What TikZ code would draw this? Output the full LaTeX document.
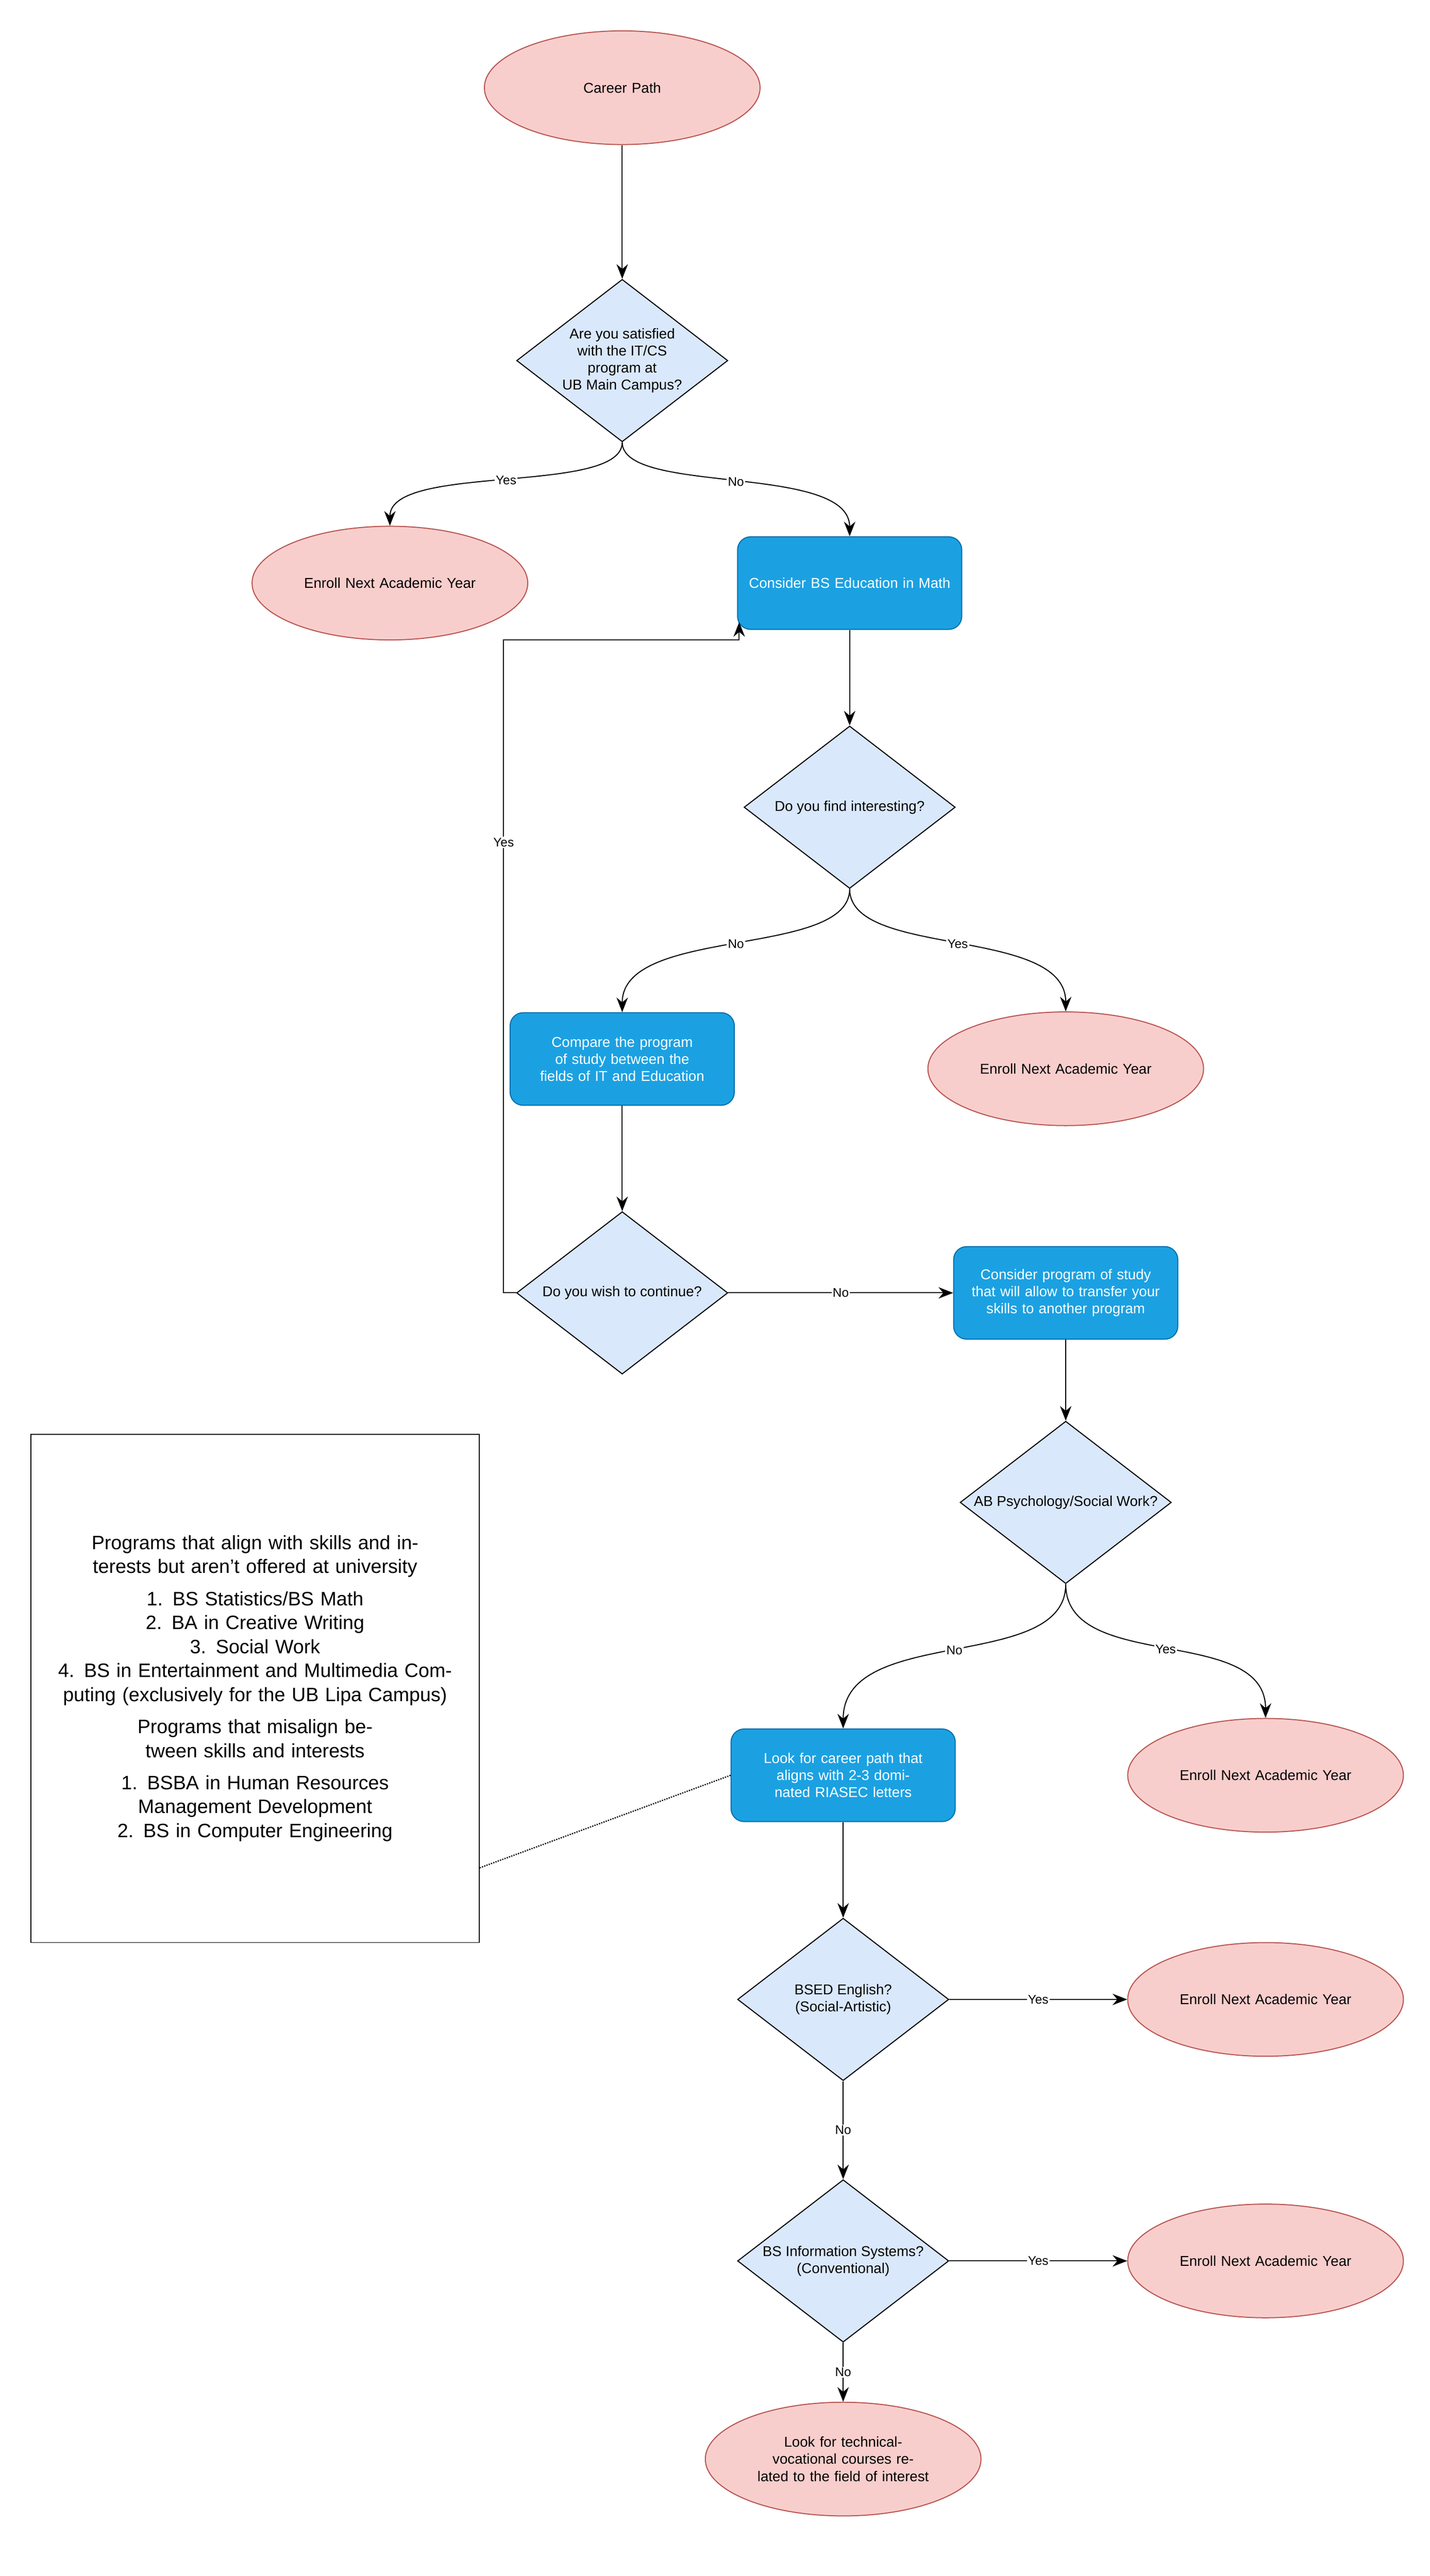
\documentclass[tikz,border=0pt]{standalone}
\usepackage{fontspec}
\setmainfont{Liberation Sans}
\usetikzlibrary{shapes.geometric,arrows.meta}
\definecolor{ef}{HTML}{F8CECC}\definecolor{ed}{HTML}{B85450}
\definecolor{df}{HTML}{DAE8FC}\definecolor{rf}{HTML}{1BA1E2}\definecolor{rd}{HTML}{006EAF}
\begin{document}
\begin{tikzpicture}[x=0.1cm,y=-0.1cm,line width=1.8pt,
 every node/.style={font=\fontsize{25}{30}\selectfont,align=center,inner sep=0},
 ell/.style={ellipse,draw=ed,fill=ef,minimum width=14.4cm,minimum height=7cm,text width=12cm},
 dia/.style={diamond,draw=black,fill=df,minimum width=13cm,minimum height=10cm,aspect=1.3},
 box/.style={rectangle,rounded corners=0.8cm,draw=rd,fill=rf,text=white,minimum width=13.8cm,minimum height=5.7cm,text width=13.6cm},
 arr/.style={-{Stealth[length=0.9cm,width=0.7cm]}},
 lab/.style={fill=white,font=\fontsize{22}{26}\selectfont,inner sep=2pt}]
\useasboundingbox (0,0) rectangle (880,1586);
\fill[white] (0,0) rectangle (880,1586);
\node[ell] (cp) at (383,54) {Career Path};
\node[dia] (d1) at (383,222) {};
\node at (383,222) {Are you satisfied\\with the IT/CS\\program at\\UB Main Campus?};
\node[ell] (e1) at (240,359) {Enroll Next Academic Year};
\node[box] (r1) at (523,359) {Consider BS Education in Math};
\node[dia] (d2) at (523,497) {};
\node at (523,497) {Do you find interesting?};
\node[box] (r2) at (383,652) {Compare the program of study between the fields of IT and Education};
\node[ell] (e2) at (656,658) {Enroll Next Academic Year};
\node[dia] (d3) at (383,796) {};
\node at (383,796) {Do you wish to continue?};
\node[box] (r3) at (656,796) {Consider program of study that will allow to transfer your skills to another program};
\node[dia] (d4) at (656,925) {};
\node at (656,925) {AB Psychology/Social Work?};
\node[box] (r4) at (519,1093) {Look for career path that aligns with 2-3 dominated RIASEC letters};
\node[ell] (e3) at (779,1093) {Enroll Next Academic Year};
\node[dia] (d5) at (519,1231) {};
\node at (519,1231) {BSED English?\\(Social-Artistic)};
\node[ell] (e4) at (779,1231) {Enroll Next Academic Year};
\node[dia] (d6) at (519,1392) {};
\node at (519,1392) {BS Information Systems?\\(Conventional)};
\node[ell] (e5) at (779,1392) {Enroll Next Academic Year};
\node[ell] (e6) at (519,1514) {Look for technical-vocational courses related to the field of interest};
\node[draw=black,line width=1.5pt,minimum width=27.6cm,minimum height=31.3cm,text width=27cm,font=\fontsize{34}{42}\selectfont] (tb) at (157,1039.5)
{Programs that align with skills and interests but aren't offered at university\\[0.5cm]
1. BS Statistics/BS Math\\2. BA in Creative Writing\\3. Social Work\\4. BS in Entertainment and Multimedia Computing (exclusively for the UB Lipa Campus)\\[0.5cm]
Programs that misalign between skills and interests\\[0.5cm]
1. BSBA in Human Resources Management Development\\2. BS in Computer Engineering\\[3cm]};
\draw[arr] (cp) -- (d1);
\draw[arr] (d1.south) .. controls (383,305) and (240,285) .. node[lab,pos=0.5]{Yes} (e1.north);
\draw[arr] (d1.south) .. controls (383,305) and (523,285) .. node[lab,pos=0.5]{No} (r1.north);
\draw[arr] (r1) -- (d2);
\draw[arr] (d2.south) .. controls (523,590) and (383,570) .. node[lab,pos=0.5]{No} (r2.north);
\draw[arr] (d2.south) .. controls (523,590) and (656,570) .. node[lab,pos=0.5]{Yes} (e2.north);
\draw[arr] (r2) -- (d3);
\coordinate (k) at (455,383);
\draw[arr] (d3.west) -- (310,796) -- node[lab,pos=0.69]{Yes} (310,394) -- (455,394) -- (k);
\draw[arr] (d3.east) -- node[lab]{No} (r3.west);
\draw[arr] (r3) -- (d4);
\draw[arr] (d4.south) .. controls (656,1030) and (519,1000) .. node[lab,pos=0.5]{No} (r4.north);
\draw[arr] (d4.south) .. controls (656,1030) and (779,1000) .. node[lab,pos=0.5]{Yes} (e3.north);
\draw[dotted,line width=2.2pt] (r4.west) -- (tb.east |- 0,1150);
\draw[arr] (r4) -- (d5);
\draw[arr] (d5.east) -- node[lab]{Yes} (e4.west);
\draw[arr] (d5.south) -- node[lab]{No} (d6.north);
\draw[arr] (d6.east) -- node[lab]{Yes} (e5.west);
\draw[arr] (d6.south) -- node[lab]{No} (e6.north);
\end{tikzpicture}
\end{document}
